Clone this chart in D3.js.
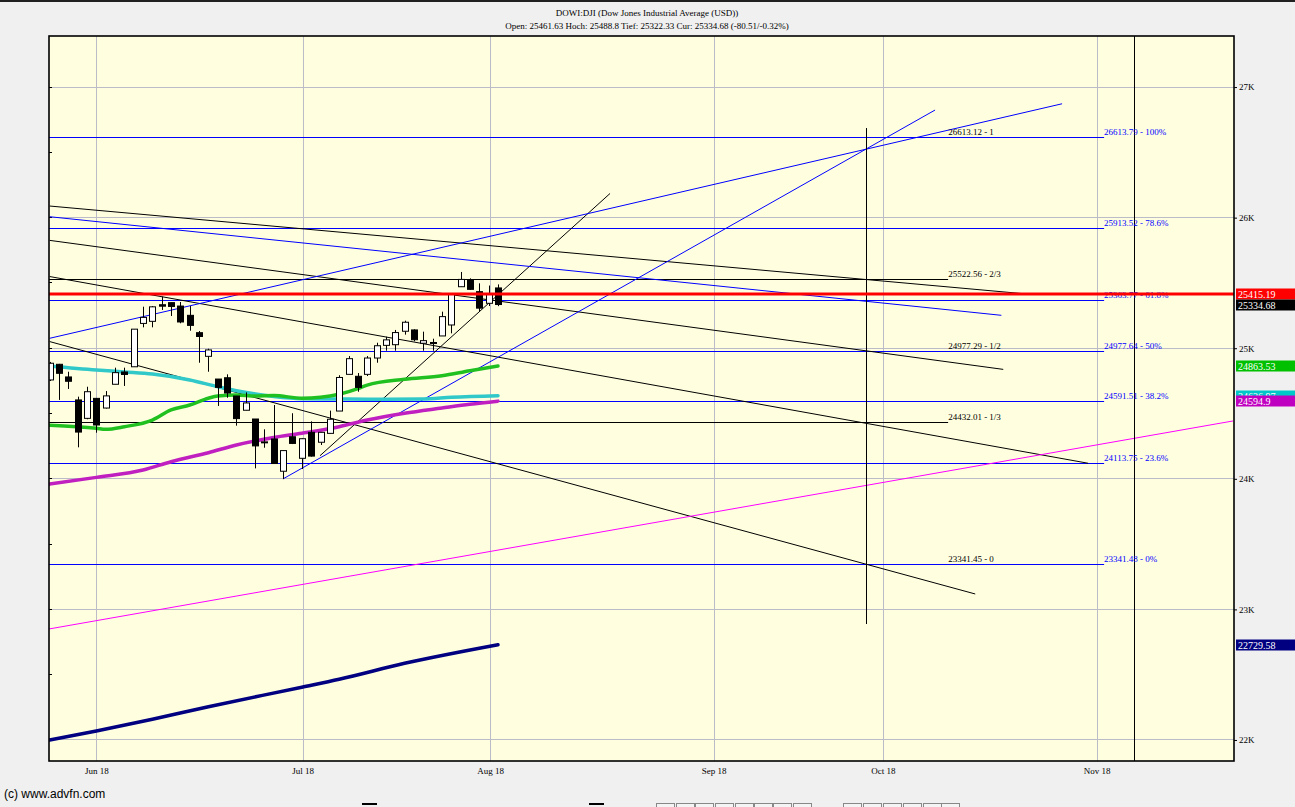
<!DOCTYPE html>
<html><head><meta charset="utf-8">
<script src="https://cdn.jsdelivr.net/npm/d3@7"></script>
<style>
html,body{margin:0;padding:0;background:#f0f0f0;overflow:hidden;}
svg{display:block;}
</style></head><body>
<svg id="c" width="1295" height="807"></svg>
<script>
// ---------- data ----------
const titleLine1 = "DOWI:DJI (Dow Jones Industrial Average (USD))";
const titleLine2 = "Open: 25461.63 Hoch: 25488.8 Tief: 25322.33 Cur: 25334.68 (-80.51/-0.32%)";
const copyright = "(c) www.advfn.com";

const dates = ["2018-05-23","2018-05-24","2018-05-25","2018-05-29","2018-05-30","2018-05-31","2018-06-01","2018-06-04","2018-06-05","2018-06-06","2018-06-07","2018-06-08","2018-06-11","2018-06-12","2018-06-13","2018-06-14","2018-06-15","2018-06-18","2018-06-19","2018-06-20","2018-06-21","2018-06-22","2018-06-25","2018-06-26","2018-06-27","2018-06-28","2018-06-29","2018-07-02","2018-07-03","2018-07-05","2018-07-06","2018-07-09","2018-07-10","2018-07-11","2018-07-12","2018-07-13","2018-07-16","2018-07-17","2018-07-18","2018-07-19","2018-07-20","2018-07-23","2018-07-24","2018-07-25","2018-07-26","2018-07-27","2018-07-30","2018-07-31","2018-08-01"];
const opens  = [24757,24877,24780,24604,24463,24616,24542,24724,24818,24858,25190,25206,25333,25349,25323,25252,25119,24938,24764,24774,24634,24525,24458,24278,24305,24058,24322,24157,24356,24280,24348,24519,24800,24785,24800,24925,25022,25027,25130,25140,25038,25040,25094,25178,25471,25523,25433,25344,25461.63];
const highs  = [24895,24880,24820,24629,24705,24619,24672,24851,24851,25146,25318,25323,25395,25349,25354,25323,25132,24996,24764,24800,24634,24662,24458,24379,24565,24218,24502,24310,24440,24358,24522,24793,24940,24810,24940,25042,25088,25140,25211,25145,25127,25073,25280,25416,25584,25535,25497,25480,25488.8];
const lows   = [24749,24604,24688,24241,24456,24353,24538,24724,24711,24858,25160,25160,25293,25247,25191,25134,24889,24820,24558,24621,24407,24525,24080,24238,24114,23998,24266,24075,24170,24259,24348,24519,24800,24667,24787,24889,24981,24981,25104,25053,24981,24981,25094,25114,25471,25446,25280,25323,25322.33];
const closes = [24885,24808,24747,24358,24667,24412,24635,24813,24799,25146,25236,25317,25322,25320,25201,25175,25090,24987,24700,24657,24461,24581,24252,24283,24117,24216,24271,24307,24174,24356,24456,24776,24920,24700,24925,25019,25064,25120,25199,25065,25058,25044,25242,25414,25527,25451,25307,25415.19,25334.68];

// moving averages: [trading-day slot, value]
const cyanMA = [[0,24864],[5,24833],[8,24818],[11,24802],[15,24757],[18,24705],[20,24675],[24,24630],[27,24613],[31,24611],[34,24609],[40,24611],[43,24624],[48,24636.97]];
const greenMA = [[0,24410],[5,24387],[6,24379],[8,24399],[11,24450],[13,24527],[15,24565],[17,24617],[18,24634],[20,24642],[22,24634],[24,24638],[27,24617],[29,24624],[31,24647],[33,24690],[34,24718],[38,24762],[42,24789],[45,24828],[48,24863.53]];
const magentaMA = [[0,23960],[5,24011],[10,24067],[13,24131],[17,24200],[20,24259],[24,24316],[27,24349],[31,24399],[34,24450],[38,24502],[42,24542],[45,24571],[48,24594.9]];
const navyMA = [[0,22000],[5,22069],[11,22159],[17,22255],[27,22404],[31,22465],[38,22587],[48,22729.58]];

// trend lines: [slot, value] endpoints
const blackTrends = [
  [[0,26089],[104.5,25416]],
  [[0,25826],[102.1,24838]],
  [[0,25549],[111.2,24119]],
  [[0,25051],[99.1,23118]],
  [[28.95,24177],[60,26185]]
];
const blueTrends = [
  [[0,25076],[108.4,26872]],
  [[0,26007],[101.9,25252]],
  [[24.98,23999],[94.8,26824]]
];
const magentaTrend = [[-0.07,22850],[126.7,24443]];
const verticalMarks = [[87.4,26686,22888],[116.1,27391,21839]];

// retracement levels
const fracValues = [26613.12,25522.56,24977.29,24432.01,23341.45];
const fracNames  = ["1","2/3","1/2","1/3","0"];
const fracEnd = 96.2;
const fibValues = [26613.79,25913.52,25363.77,24977.64,24591.51,24113.75,23341.48];
const fibNames  = ["100%","78.6%","61.8%","50%","38.2%","23.6%","0%"];
const fibEnd = 112.9;

const prevClose = 25415.19;

// axis ticks
const yTickValues = [22000,23000,24000,25000,26000,27000];
const yMinorTicks = [22500,23500,24500,25500,26500];
const yTickLabels = ["22K","23K","24K","25K","26K","27K"];
const xTickAt = [4.99,27.09,47.15,71.1,89.2,112.1];
const xTickLabels = ["Jun 18","Jul 18","Aug 18","Sep 18","Oct 18","Nov 18"];

// value tags on right
const tagValues = [25415.19,25334.68,24863.53,24636.97,24594.9,22729.58];
const tagColors = ["#ff0000","#000000","#00c000","#00c8c8","#c000c0","#000080"];

// ---------- drawing ----------
const svg = d3.select("#c");
const L = 49, R = 1234, T = 36, B = 761;
const x = d3.scaleLinear().domain([-0.07,126.7]).range([49,1233]);
const y = d3.scaleLinear().domain([21839,27391]).range([761,36]);
const serif = "'Liberation Serif','Times New Roman',serif";
const py = v => Math.floor(y(v)) + 0.5;

svg.append("rect").attr("width",1295).attr("height",807).attr("fill","#f0f0f0");
svg.append("rect").attr("x",0).attr("y",0).attr("width",1295).attr("height",2).attr("fill","#202020");

// title
svg.append("text").attr("x",647).attr("y",15.5).attr("text-anchor","middle")
  .attr("font-family",serif).attr("font-size",9).attr("fill","#000").text(titleLine1);
svg.append("text").attr("x",647).attr("y",28.5).attr("text-anchor","middle")
  .attr("font-family",serif).attr("font-size",9).attr("fill","#000").text(titleLine2);

svg.append("defs").append("clipPath").attr("id","pc")
  .append("rect").attr("x",L).attr("y",T).attr("width",R-L).attr("height",B-T);

svg.append("rect").attr("x",L).attr("y",T).attr("width",R-L).attr("height",B-T).attr("fill","#ffffe0");

const g = svg.append("g").attr("clip-path","url(#pc)");

// grid
g.selectAll(".hg").data(yTickValues).join("line")
  .attr("x1",L).attr("x2",R).attr("y1",py).attr("y2",py)
  .attr("stroke","#bcbcc8").attr("stroke-width",1);
g.selectAll(".vg").data(xTickAt).join("line")
  .attr("y1",T).attr("y2",B).attr("x1",d=>Math.round(x(d))+0.5).attr("x2",d=>Math.round(x(d))+0.5)
  .attr("stroke","#bcbcc8").attr("stroke-width",1);
// left ticks
g.selectAll(".lt").data(yTickValues.concat(yMinorTicks)).join("line")
  .attr("x1",L).attr("x2",L+3).attr("y1",py).attr("y2",py)
  .attr("stroke","#000");

// fraction levels (black)
g.selectAll(".fr").data(fracValues).join("line")
  .attr("x1",L).attr("x2",x(fracEnd)).attr("y1",py).attr("y2",py)
  .attr("stroke","#000").attr("stroke-width",1);
// fib levels (blue)
g.selectAll(".fb").data(fibValues).join("line")
  .attr("x1",L).attr("x2",x(fibEnd)).attr("y1",py).attr("y2",py)
  .attr("stroke","#0000ff").attr("stroke-width",1);

const lineGen = d3.line().x(d=>x(d[0])).y(d=>y(d[1]));
// trend lines
g.selectAll(".bt").data(blackTrends).join("path").attr("d",lineGen)
  .attr("fill","none").attr("stroke","#000").attr("stroke-width",1);
g.selectAll(".blt").data(blueTrends).join("path").attr("d",lineGen)
  .attr("fill","none").attr("stroke","#0000ff").attr("stroke-width",1);
g.append("path").attr("d",lineGen(magentaTrend)).attr("fill","none").attr("stroke","#ff00ff").attr("stroke-width",1);
g.selectAll(".vm").data(verticalMarks).join("line")
  .attr("x1",d=>Math.round(x(d[0]))+0.5).attr("x2",d=>Math.round(x(d[0]))+0.5)
  .attr("y1",d=>y(d[1])).attr("y2",d=>y(d[2])).attr("stroke","#000").attr("stroke-width",1);

// labels of levels
g.selectAll(".frl").data(fracValues).join("text")
  .attr("x",x(fracEnd)).attr("y",d=>y(d)-2.5)
  .attr("font-family",serif).attr("font-size",9).attr("fill","#000")
  .text((d,i)=>d.toFixed(2)+" - "+fracNames[i]);
g.selectAll(".fbl").data(fibValues).join("text")
  .attr("x",x(fibEnd)).attr("y",d=>y(d)-2.5)
  .attr("font-family",serif).attr("font-size",9).attr("fill","#0000ff")
  .text((d,i)=>d.toFixed(2)+" - "+fibNames[i]);

// moving averages
const maGen = d3.line().x(d=>x(d[0])).y(d=>y(d[1])).curve(d3.curveMonotoneX);
[[navyMA,"#000080"],[magentaMA,"#c020c0"],[cyanMA,"#30c8c8"],[greenMA,"#20c020"]].forEach(([s,c])=>{
  g.append("path").attr("d",maGen(s)).attr("fill","none").attr("stroke",c)
   .attr("stroke-width",3.5).attr("stroke-linejoin","round").attr("stroke-linecap","round");
});

// candles
const candles = dates.map((d,i)=>({i,o:opens[i],h:highs[i],l:lows[i],c:closes[i]}));
const cg = g.selectAll(".cd").data(candles).join("g");
cg.append("line")
  .attr("x1",d=>Math.round(x(d.i))+0.5).attr("x2",d=>Math.round(x(d.i))+0.5)
  .attr("y1",d=>y(d.h)).attr("y2",d=>y(d.l)).attr("stroke","#000").attr("stroke-width",1);
cg.append("rect")
  .attr("x",d=>Math.round(x(d.i))-3+0.5)
  .attr("y",d=>Math.min(y(d.o),y(d.c)))
  .attr("width",6)
  .attr("height",d=>Math.max(1,Math.abs(y(d.o)-y(d.c))))
  .attr("fill",d=>d.c>=d.o?"#ffffff":"#000000")
  .attr("stroke","#000").attr("stroke-width",1);

// previous close line
g.append("line").attr("x1",L).attr("x2",R).attr("y1",y(prevClose)).attr("y2",y(prevClose))
  .attr("stroke","#ff0000").attr("stroke-width",3);

// frame
svg.append("rect").attr("x",L).attr("y",T).attr("width",R-L).attr("height",B-T)
  .attr("fill","none").attr("stroke","#000").attr("stroke-width",1.6);

// right axis
const yAxis = d3.axisRight(y).tickValues(yTickValues).tickSize(3).tickPadding(2)
  .tickFormat((d,i)=>yTickLabels[i]);
const ya = svg.append("g").attr("transform",`translate(${R},0)`).call(yAxis);
ya.select(".domain").remove();
ya.selectAll("text").attr("font-family",serif).attr("font-size",9).attr("fill","#000");

// bottom axis
const xAxis = d3.axisBottom(x).tickValues(xTickAt).tickSize(0).tickPadding(7)
  .tickFormat((d,i)=>xTickLabels[i]);
const xa = svg.append("g").attr("transform",`translate(0,${B})`).call(xAxis);
xa.select(".domain").remove();
xa.selectAll("text").attr("font-family",serif).attr("font-size",9).attr("fill","#000");

// value tags
const tg = svg.selectAll(".tag").data(tagValues).join("g");
tg.append("rect").attr("x",1236).attr("y",d=>Math.round(y(d))-5.5).attr("width",59).attr("height",11)
  .attr("fill",(d,i)=>tagColors[i]);
tg.append("text").attr("x",1238).attr("y",d=>Math.round(y(d))+4)
  .attr("font-family",serif).attr("font-size",10).attr("fill","#fff").text(d=>String(d));

// copyright
svg.append("text").attr("x",4).attr("y",798).attr("font-family","'Liberation Sans',Arial,sans-serif")
  .attr("font-size",12).attr("fill","#000").text(copyright);

// toolbar stubs at the bottom edge
const stubs = [656,676,695,715,735,754,773,793,843,863,883,903,923,941];
svg.selectAll(".stub").data(stubs).join("rect")
  .attr("x",d=>d+0.5).attr("y",803.5).attr("width",18).attr("height",6)
  .attr("fill","#f4f4f4").attr("stroke","#888");
svg.append("rect").attr("x",362).attr("y",803).attr("width",15).attr("height",2).attr("fill","#000");
svg.append("rect").attr("x",589).attr("y",803).attr("width",15).attr("height",2).attr("fill","#000");
</script>
</body></html>
